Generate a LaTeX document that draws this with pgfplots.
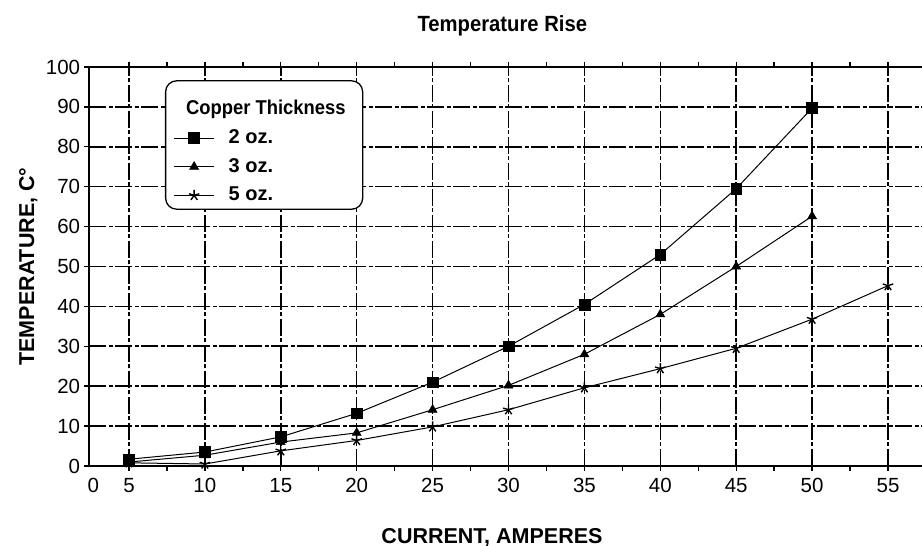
\documentclass[border=0pt]{standalone}
\usepackage{pgfplots}
\pgfplotsset{compat=1.18}
\usepackage{fontspec}
\setmainfont{Liberation Sans}
\newfontfamily\condfont[FakeStretch=0.92]{Liberation Sans}
\begin{document}
\begin{tikzpicture}
\begin{axis}[
  name=ax,
  scale only axis,
  width=832.7bp, height=399bp,
  xmin=2.385, xmax=57.24,
  ymin=0, ymax=100,
  axis y line*=left,
  axis x line*=box,
  axis line style={black, line width=1.8bp},
  xtick={5,10,...,55},
  minor xtick={7.5,12.5,...,52.5},
  ytick={0,10,...,100},
  extra x ticks={2.65},
  extra x tick labels={0},
  extra x tick style={grid=none, tick style={draw=none}},
  tick align=outside,
  major tick length=5bp,
  minor tick length=5bp,
  every tick/.style={black, line width=1.4bp},
  xmajorgrids, ymajorgrids,
  major grid style={black, line width=1.6bp, dash pattern=on 17bp off 2.5bp on 4bp off 2.5bp},
  /pgf/number format/assume math mode=true,
  tick label style={font=\fontsize{20.5bp}{24bp}\selectfont},
  xticklabel style={anchor=base, inner sep=0pt, yshift=-22bp},
  yticklabel style={anchor=east, inner sep=0pt, xshift=-4bp},
  title={\condfont\bfseries Temperature Rise},
  title style={font=\fontsize{22bp}{26bp}\selectfont, at={(axis description cs:0.496,1)}, anchor=base, yshift=30bp},
  xlabel={\bfseries CURRENT, AMPERES},
  xlabel style={font=\fontsize{21.5bp}{26bp}\selectfont, at={(axis description cs:0.4836,0)}, anchor=base, yshift=-77bp},
  ylabel={\bfseries TEMPERATURE, C\textdegree},
  ylabel style={font=\fontsize{21.5bp}{26bp}\selectfont, at={(axis description cs:-0.0733,0.5)}, anchor=center},
  legend style={at={(axis description cs:0.0909,0.967)}, anchor=north west,
    draw=black, line width=1.3bp, rounded corners=11bp,
    inner xsep=8bp, inner ysep=4.3bp,
    font=\fontsize{20bp}{24bp}\selectfont\bfseries,
    nodes={inner sep=0pt, text depth=4bp},
    row sep=9.7bp, column sep=14bp},
  legend cell align=left,
  legend image code/.code={\draw[mark repeat=2,mark phase=2,line width=1bp] plot coordinates {(0bp,0bp) (20bp,0bp) (40bp,0bp)};},
]
\addlegendimage{empty legend}
\addlegendentry{\hspace{-42.5bp}\rule{0pt}{29.7bp}{\condfont\bfseries Copper Thickness}\hspace{9bp}\rule{0pt}{0pt}}

\addplot[black, line width=1bp, mark=square*, mark size=5.4bp, mark options={solid, line width=0.5bp}] coordinates {
(5,1.7) (10,3.5) (15,7.3) (20,13.2) (25,21) (30,30) (35,40.5) (40,53) (45,69.5) (50,89.7)};
\addlegendentry{\rule{0pt}{15bp}2 oz.}

\addplot[black, line width=1bp, mark=triangle*, mark size=5.2bp, mark options={solid, line width=0.5bp}] coordinates {
(5,1) (10,2.7) (15,6) (20,8.3) (25,14.1) (30,20.2) (35,28) (40,38) (45,50) (50,62.6)};
\addlegendentry{\rule{0pt}{15bp}3 oz.}

\addplot[black, line width=1bp, mark=star, mark size=5.5bp, mark options={solid, line width=1.4bp}] coordinates {
(5,0.8) (10,0.5) (15,3.8) (20,6.4) (25,9.8) (30,14.1) (35,19.6) (40,24.4) (45,29.5) (50,36.8) (55,45.2)};
\addlegendentry{\rule{0pt}{15bp}5 oz.}
\end{axis}
\pgfresetboundingbox
\path ([xshift=-89.3bp,yshift=-80bp]ax.south west) rectangle ([yshift=67bp]ax.north east);
\end{tikzpicture}
\end{document}
